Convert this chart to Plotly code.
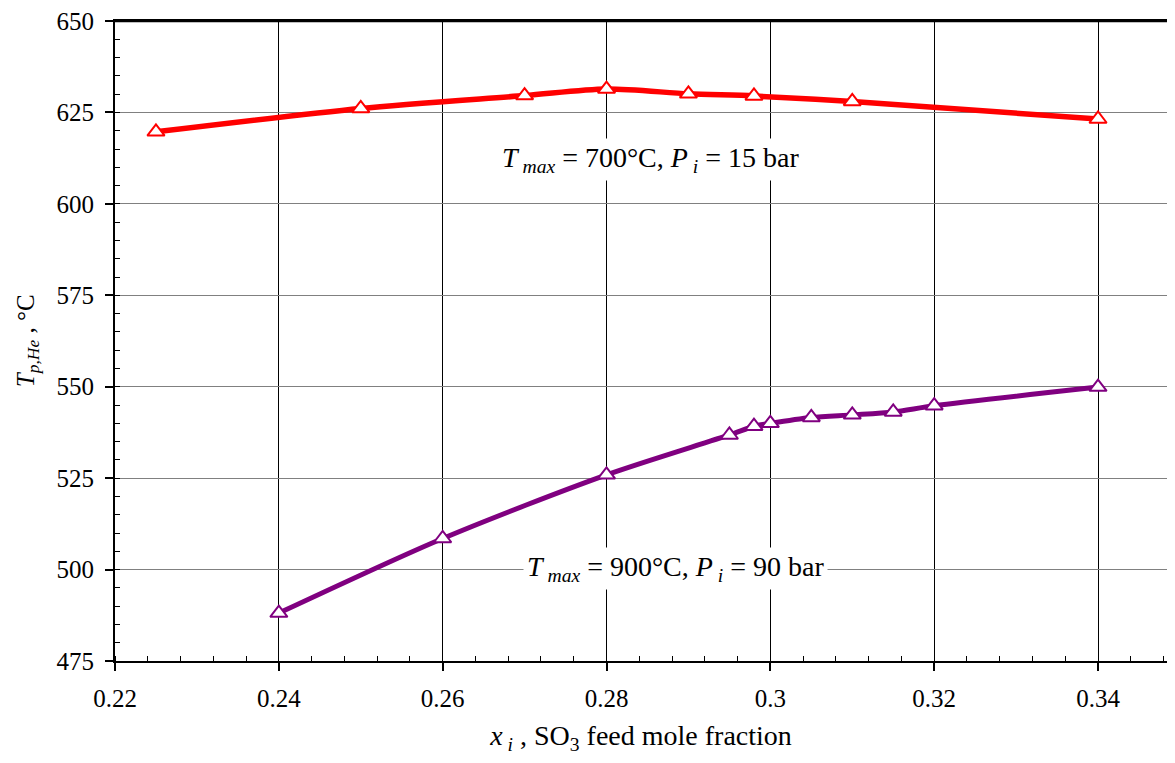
import plotly.graph_objects as go

# Data
x_700 = [0.225, 0.25, 0.27, 0.28, 0.29, 0.298, 0.31, 0.34]
t_700 = [619.7, 626.1, 629.6, 631.4, 630.1, 629.5, 628.0, 623.2]

x_900 = [0.24, 0.26, 0.28, 0.295, 0.298, 0.30, 0.305, 0.31, 0.315, 0.32, 0.34]
t_900 = [488.1, 508.5, 525.9, 536.8, 539.2, 540.0, 541.6, 542.3, 543.1, 544.8, 549.9]

label_700 = "<i>T</i><sub><i> max</i></sub> = 700°C, <i>P</i><sub><i> i</i></sub> = 15 bar"
label_900 = "<i>T</i><sub><i> max</i></sub> = 900°C, <i>P</i><sub><i> i</i></sub> = 90 bar"
label_pos_700 = (0.2854, 612.2)
label_pos_900 = (0.2884, 500.4)

x_ticks = [0.22, 0.24, 0.26, 0.28, 0.30, 0.32, 0.34]
x_ticktext = ["0.22", "0.24", "0.26", "0.28", "0.3", "0.32", "0.34"]
y_ticks = [475, 500, 525, 550, 575, 600, 625, 650]

FONT = "Liberation Serif"

fig = go.Figure()
fig.add_trace(go.Scatter(
    x=x_700, y=t_700, mode="lines+markers",
    line=dict(color="#FF0000", width=5.5, shape="spline", smoothing=0.8),
    marker=dict(symbol="triangle-up", size=15, color="white",
                line=dict(color="#FF0000", width=2)),
    showlegend=False))
fig.add_trace(go.Scatter(
    x=x_900, y=t_900, mode="lines+markers",
    line=dict(color="#800080", width=5, shape="spline", smoothing=0.8),
    marker=dict(symbol="triangle-up", size=15, color="white",
                line=dict(color="#800080", width=2)),
    showlegend=False))

for (ax, ay), txt in [(label_pos_700, label_700), (label_pos_900, label_900)]:
    fig.add_annotation(x=ax, y=ay, xref="x", yref="y", text=txt, showarrow=False,
                       xanchor="center", yanchor="middle",
                       font=dict(family=FONT, size=28, color="black"),
                       bgcolor="white", borderpad=3)

fig.add_annotation(x=-0.0835, y=0.5, xref="paper", yref="paper",
                   xanchor="center", yanchor="middle",
                   text="<i>T</i><sub><i>p,He</i></sub> , °C", textangle=-90,
                   showarrow=False, font=dict(family=FONT, size=25, color="black"))

# top frame line of the plot area
fig.add_shape(type="line", xref="paper", yref="paper", x0=0, x1=1, y0=1, y1=1,
              line=dict(color="black", width=2.5), layer="above")

fig.update_xaxes(
    range=[0.22, 0.34842], tickvals=x_ticks, ticktext=x_ticktext,
    showgrid=True, gridcolor="#000000", gridwidth=1,
    showline=True, linecolor="black", linewidth=2, mirror=True,
    ticks="outside", ticklen=8, tickwidth=1.5, tickcolor="black",
    minor=dict(dtick=0.004, ticks="inside", ticklen=5, tickwidth=1, tickcolor="black", showgrid=False),
    tickfont=dict(family=FONT, size=25, color="black"),
    ticklabelstandoff=6, ticklabeloverflow="allow",
    title=dict(text="<i>x</i><sub><i> i</i></sub> , SO<sub>3</sub> feed mole fraction",
               font=dict(family=FONT, size=28, color="black"), standoff=16),
    zeroline=False)
fig.update_yaxes(
    range=[475, 650], tickvals=y_ticks,
    showgrid=True, gridcolor="#808080", gridwidth=1,
    showline=True, linecolor="black", linewidth=2, mirror=False,
    ticks="outside", ticklen=8, tickwidth=1.5, tickcolor="black",
    minor=dict(dtick=5, ticks="inside", ticklen=5, tickwidth=1, tickcolor="black", showgrid=False),
    tickfont=dict(family=FONT, size=25, color="black"),
    ticklabelstandoff=6, ticklabeloverflow="allow",
    zeroline=False)

# page body has an 8px margin: size the figure so it fits without overflow
fig.update_layout(
    width=1159, height=747,
    margin=dict(l=107, r=0, t=13, b=94, autoexpand=False),
    plot_bgcolor="white", paper_bgcolor="white",
    font=dict(family=FONT, color="black"),
)

fig.write_html("out.html")
